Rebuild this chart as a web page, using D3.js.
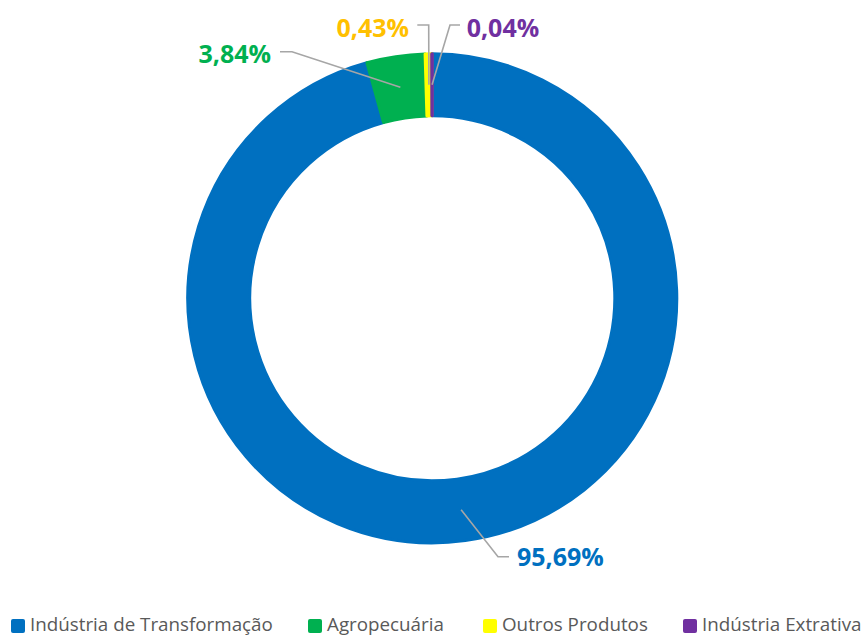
<!DOCTYPE html>
<html>
<head>
<meta charset="utf-8">
<script src="https://d3js.org/d3.v7.min.js"></script>
<style>
  html, body { margin: 0; padding: 0; background: #fff; }
  svg { display: block; }
  .pct { font-family: "Open Sans", sans-serif; font-weight: 700; font-size: 25px; }
  .leg { font-family: "Open Sans", sans-serif; font-size: 18.8px; fill: #595959; }
</style>
</head>
<body>
<script>
"use strict";
// Donut: share of each sector (%)
const categories = ["Indústria de Transformação", "Agropecuária", "Outros Produtos", "Indústria Extrativa"];
const values = [95.69, 3.84, 0.43, 0.04];
const labels = ["95,69%", "3,84%", "0,43%", "0,04%"];

const sliceColor = ["#0070c0", "#00b050", "#ffff00", "#7030a0"];
const labelColor = ["#0070c0", "#00b050", "#ffc000", "#7030a0"];

const W = 861, H = 636;
const cx = 432.3, cy = 298.3;
const rOuter = 244.5, rInner = 182.5;

// label layout (page coords): text anchor point, elbow points of leader
const labelLayout = [
  { x: 517, y: 566, anchor: "start", elbow: [[509, 556.7], [498, 556.7]] },
  { x: 271, y: 63, anchor: "end", elbow: [[280, 51.7], [292, 51.7]] },
  { x: 409, y: 37, anchor: "end", elbow: [[417.3, 25], [428.7, 25]] },
  { x: 466.7, y: 37, anchor: "start", elbow: [[460, 25], [450, 25]] }
];

// legend layout: x of each swatch
const legendX = [11, 308, 483, 683];

const svg = d3.select("body").append("svg").attr("width", W).attr("height", H);
const g = svg.append("g").attr("transform", `translate(${cx},${cy})`);

const pie = d3.pie().sort(null).value((d) => d).startAngle(0).endAngle(2 * Math.PI);
const arcs = pie(values);
const arc = d3.arc().innerRadius(rInner).outerRadius(rOuter);
const midArc = d3.arc().innerRadius(181).outerRadius(246);

g.selectAll("path.slice").data(arcs).join("path")
  .attr("class", "slice")
  .attr("d", arc)
  .attr("fill", (d, i) => sliceColor[i])
  .attr("stroke", (d, i) => sliceColor[i])
  .attr("stroke-width", 3)
  .attr("stroke-linejoin", "round");

// leader lines
const line = d3.line();
svg.append("g").selectAll("path").data(arcs).join("path")
  .attr("fill", "none")
  .attr("stroke", "#a6a6a6")
  .attr("stroke-width", 1.6)
  .attr("d", (d, i) => {
    const c = midArc.centroid(d);
    const pts = labelLayout[i].elbow.concat([[cx + c[0], cy + c[1]]]);
    return line(pts);
  });

svg.append("g").selectAll("text").data(labels).join("text")
  .attr("class", "pct")
  .attr("x", (d, i) => labelLayout[i].x)
  .attr("y", (d, i) => labelLayout[i].y)
  .attr("text-anchor", (d, i) => labelLayout[i].anchor)
  .attr("fill", (d, i) => labelColor[i])
  .text((d) => d);

// legend
const leg = svg.append("g").selectAll("g").data(categories).join("g")
  .attr("transform", (d, i) => `translate(${legendX[i]},0)`);
leg.append("rect").attr("x", 0).attr("y", 619).attr("width", 14).attr("height", 14)
  .attr("rx", 2).attr("fill", (d, i) => sliceColor[i]);
leg.append("text").attr("class", "leg").attr("x", 19).attr("y", 631).text((d) => d);
</script>
</body>
</html>
